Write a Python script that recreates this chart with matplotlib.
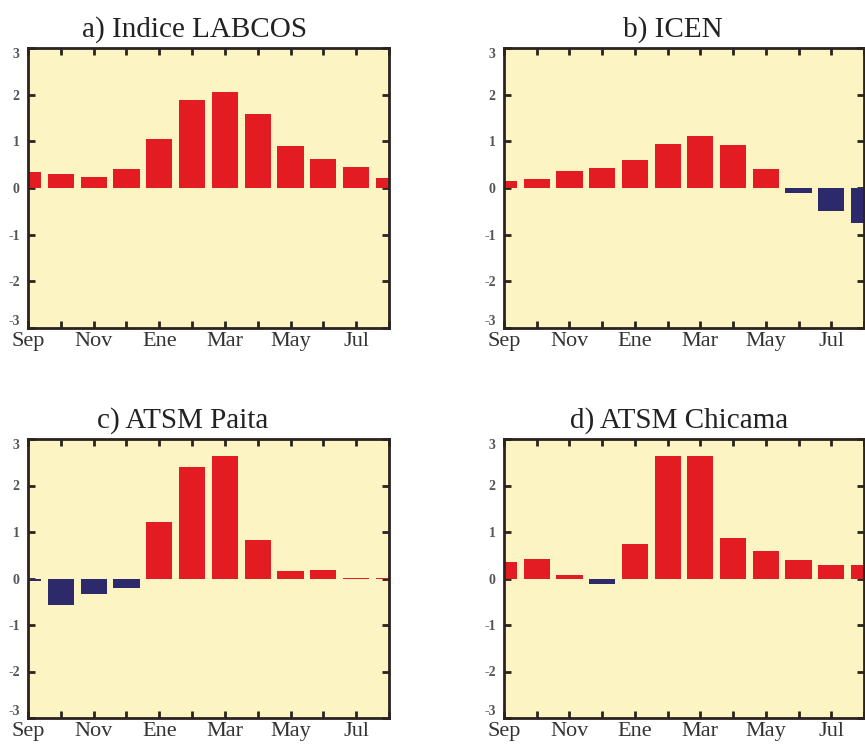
import numpy as np
import matplotlib.pyplot as plt

# monthly values, Sep -> Aug
months = ['Sep', 'Oct', 'Nov', 'Dic', 'Ene', 'Feb', 'Mar', 'Abr', 'May', 'Jun', 'Jul', 'Ago']
tick_labels = ['Sep', '', 'Nov', '', 'Ene', '', 'Mar', '', 'May', '', 'Jul', '']

labcos = [0.34, 0.29, 0.23, 0.41, 1.06, 1.89, 2.06, 1.58, 0.89, 0.62, 0.44, 0.21]
icen = [0.16, 0.20, 0.36, 0.43, 0.59, 0.94, 1.11, 0.92, 0.40, -0.11, -0.50, -0.75]
paita = [-0.05, -0.58, -0.33, -0.20, 1.22, 2.39, 2.64, 0.82, 0.16, 0.18, 0.02, 0.02]
chicama = [0.35, 0.41, 0.07, -0.11, 0.74, 2.64, 2.63, 0.88, 0.59, 0.40, 0.30, 0.28]

titles = ['a) Indice LABCOS', 'b) ICEN', 'c) ATSM Paita', 'd) ATSM Chicama']
series = [labcos, icen, paita, chicama]

red = '#e31c24'
navy = '#2d2a6c'
bg = '#fdf4c3'
dark = '#2a2320'

plt.rcParams['font.family'] = ['Liberation Serif', 'DejaVu Serif']

fig = plt.figure(figsize=(8.65, 7.45), dpi=100)

# axes boxes in pixels (left, top, right, bottom) and title centres
boxes = [(28, 48, 389, 328), (504, 48, 864, 328),
         (28, 439, 389, 718), (504, 439, 864, 718)]
title_x = [195, 673, 183, 679]

x = np.arange(1, 13)
for box, tx, vals, title in zip(boxes, title_x, series, titles):
    l, t, r, b = box
    ax = fig.add_axes([l / 865, (745 - b) / 745, (r - l) / 865, (b - t) / 745])
    ax.set_facecolor(bg)
    vals = np.array(vals)
    colors = [red if v >= 0 else navy for v in vals]
    ax.bar(x, vals, width=0.8, color=colors, edgecolor='none', zorder=2)
    ax.set_xlim(1, 12)
    ax.set_ylim(-3, 3)
    ax.set_xticks(x)
    ax.set_xticklabels(tick_labels, fontsize=16, color='#333333')
    ax.set_yticks(range(-3, 4))
    ax.set_yticklabels([str(v) for v in range(-3, 4)], fontsize=10,
                       fontweight='bold', color='#555555')
    # keep the end labels inside the frame height, as in the original
    ylabs = ax.get_yticklabels()
    ylabs[0].set_verticalalignment('bottom')
    ylabs[-1].set_verticalalignment('top')
    ax.tick_params(direction='in', length=5, width=2, color=dark,
                   top=True, right=True)
    ax.tick_params(axis='x', pad=3)
    ax.tick_params(axis='y', pad=6)
    for s in ax.spines.values():
        s.set_linewidth(2)
        s.set_color(dark)
    ax.set_title(title, fontsize=21, pad=8, color='#222222',
                 x=(tx - l) / (r - l))

fig.savefig('out.png', dpi=100)
